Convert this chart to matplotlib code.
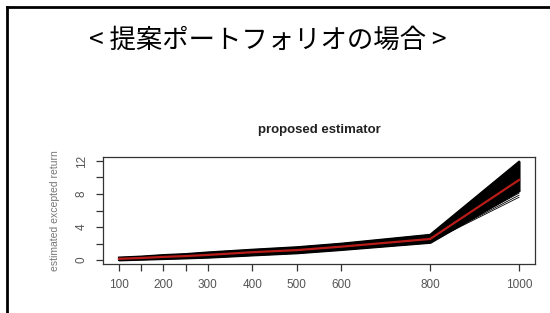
import matplotlib
matplotlib.use("Agg")
import matplotlib.pyplot as plt
from matplotlib.lines import Line2D

# ---- data ----
x_vals = [100, 150, 200, 250, 300, 400, 500, 600, 800, 1000]
mean_line = [0.15, 0.25, 0.38, 0.48, 0.62, 0.95, 1.2, 1.62, 2.55, 9.7]
upper_env = [0.3, 0.42, 0.6, 0.72, 0.92, 1.25, 1.55, 1.98, 3.05, 11.9]
lower_env = [0.02, 0.1, 0.18, 0.26, 0.35, 0.62, 0.88, 1.28, 2.15, 8.4]
tail_lines = [
    [0.05, 0.12, 0.2, 0.28, 0.38, 0.65, 0.9, 1.3, 2.2, 7.6],
    [0.06, 0.14, 0.22, 0.3, 0.4, 0.68, 0.93, 1.33, 2.22, 7.85],
    [0.08, 0.16, 0.25, 0.33, 0.43, 0.7, 0.96, 1.36, 2.25, 8.1],
]
x_ticks = [100, 150, 200, 250, 300, 400, 500, 600, 800, 1000]
x_ticklabels = ["100", "", "200", "", "300", "400", "500", "600", "800", "1000"]
y_ticks = [0, 2, 4, 6, 8, 10, 12]
y_ticklabels = ["0", "", "4", "", "8", "", "12"]

W, H = 550, 313
fig = plt.figure(figsize=(W / 100, H / 100), dpi=100)
fig.patch.set_facecolor("white")

# slide frame (top and left lines)
fig.add_artist(Line2D([6.5 / W, 1.0], [1 - 6.5 / H, 1 - 6.5 / H], color="black", lw=2.0,
                      transform=fig.transFigure))
fig.add_artist(Line2D([6.5 / W, 6.5 / W], [0.0, 1 - 6.5 / H], color="black", lw=2.0,
                      transform=fig.transFigure))

fig.text(267.5 / W, 1 - 40 / H, "< 提案ポートフォリオの場合 >", ha="center", va="center",
         fontsize=19, family=["Noto Sans CJK JP", "DejaVu Sans"], color="black")

ax = fig.add_axes([103 / W, 1 - 264 / H, 432 / W, 107 / H])
ax.fill_between(x_vals, lower_env, upper_env, color="black", lw=1.5, edgecolor="black")
ax.plot(x_vals, upper_env, color="black", lw=1.5)
ax.plot(x_vals, lower_env, color="black", lw=1.5)
for tl in tail_lines:
    ax.plot(x_vals, tl, color="black", lw=0.6)
ax.plot(x_vals, mean_line, color="#b81c18", lw=1.6)

ax.set_xlim(64, 1036)
ax.set_ylim(-0.48, 12.48)
ax.set_xticks(x_ticks)
ax.set_xticklabels(x_ticklabels)
ax.set_yticks(y_ticks)
ax.set_yticklabels(y_ticklabels, rotation=90, va="center")
for s in ax.spines.values():
    s.set_color("#333333")
    s.set_linewidth(0.9)
ax.tick_params(axis="both", direction="out", length=5, width=0.9, color="#333333",
               labelsize=8.5, labelcolor="#555555", pad=6)
for lab in ax.get_xticklabels() + ax.get_yticklabels():
    lab.set_family("Liberation Sans")

ax.set_title("proposed estimator", fontsize=9.5, fontweight="bold", family="Liberation Sans",
             color="#222222", pad=17)
ax.set_ylabel("estimated excepted return", fontsize=7.5, family="Liberation Sans",
              color="#777777", labelpad=11)

fig.savefig("out.png", dpi=100, facecolor="white")
